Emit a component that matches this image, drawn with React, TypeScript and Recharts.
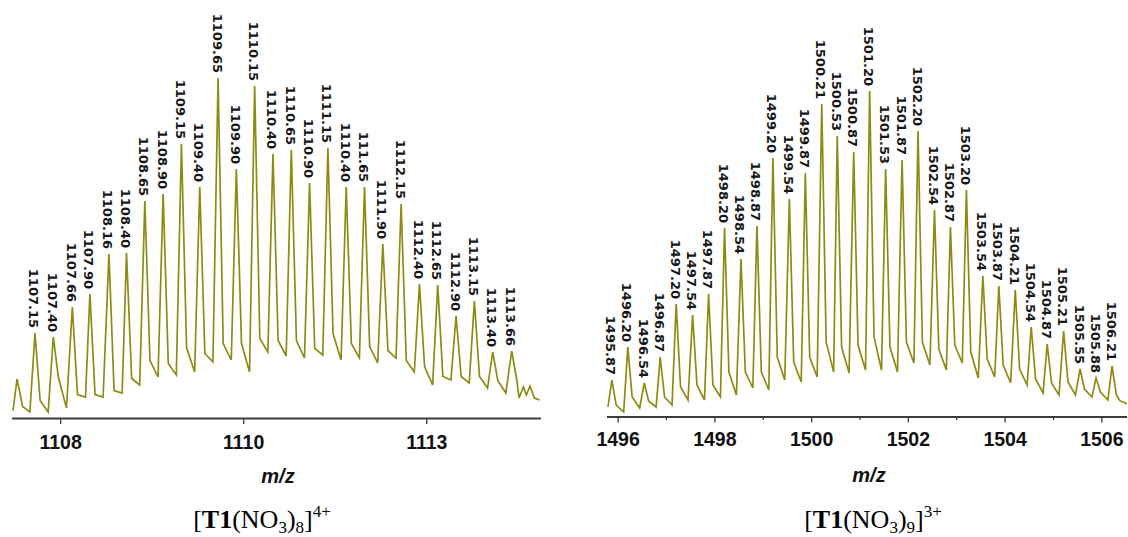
import React from 'react';
import { LineChart, Line, XAxis, YAxis, LabelList } from 'recharts';

// ---------- Left spectrum: [T1(NO3)8]4+ ----------
const leftPeakMz = [1107.15, 1107.40, 1107.66, 1107.90, 1108.16, 1108.40, 1108.65, 1108.90, 1109.15, 1109.40, 1109.65, 1109.90, 1110.15, 1110.40, 1110.65, 1110.90, 1111.15, 1111.40, 1111.65, 1111.90, 1112.15, 1112.40, 1112.65, 1112.90, 1113.15, 1113.40, 1113.66];
const leftPeakLabels = ['1107.15', '1107.40', '1107.66', '1107.90', '1108.16', '1108.40', '1108.65', '1108.90', '1109.15', '1109.40', '1109.65', '1109.90', '1110.15', '1110.40', '1110.65', '1110.90', '1111.15', '1110.40', '111.65', '1111.90', '1112.15', '1112.40', '1112.65', '1112.90', '1113.15', '1113.40', '1113.66'];
const leftPeakHeights = [85.5, 81.5, 111.5, 124.5, 164.5, 165.5, 217.5, 224.5, 274.5, 231.5, 340.5, 249.5, 332.5, 264.5, 268.5, 235.5, 270.5, 231.5, 231.5, 174.5, 214.5, 134.5, 133.5, 102.5, 117.5, 66.5, 67.5];
const leftKnees = [18, 41, 24, 24, 28, 40, 58, 55, 71, 65, 75, 75, 80, 78, 78, 70, 85, 75, 72, 68, 58, 52, 42, 42, 42, 38, 38];
const leftValleys = [6.5, 10.5, 21.5, 21.5, 25.5, 33.5, 41.5, 43.5, 46.5, 56.5, 58.5, 46.5, 66.5, 62.5, 60.5, 63.5, 58.5, 60.5, 55.5, 60.5, 46.5, 33.5, 38.5, 35.5, 30.5, 25.5];
const leftHeadMz = [1106.85, 1106.905, 1106.98, 1107.08];
const leftHeadH = [8, 39.5, 12, 6.5];
const leftTailMz = [1113.76, 1113.82, 1113.86, 1113.91, 1113.97, 1114.04];
const leftTailH = [20.5, 31.5, 23.5, 32.5, 20.5, 18.5];
const leftTickValues = [1107.5, 1110, 1112.5];
const leftTickLabels = ['1108', '1110', '1113'];

// ---------- Right spectrum: [T1(NO3)9]3+ ----------
const rightPeakMz = [1495.87, 1496.20, 1496.54, 1496.87, 1497.20, 1497.54, 1497.87, 1498.20, 1498.54, 1498.87, 1499.20, 1499.54, 1499.87, 1500.21, 1500.53, 1500.87, 1501.20, 1501.53, 1501.87, 1502.20, 1502.54, 1502.87, 1503.20, 1503.54, 1503.87, 1504.21, 1504.54, 1504.87, 1505.21, 1505.55, 1505.88, 1506.21];
const rightPeakLabels = ['1495.87', '1496.20', '1496.54', '1496.87', '1497.20', '1497.54', '1497.87', '1498.20', '1498.54', '1498.87', '1499.20', '1499.54', '1499.87', '1500.21', '1500.53', '1500.87', '1501.20', '1501.53', '1501.87', '1502.20', '1502.54', '1502.87', '1503.20', '1503.54', '1503.87', '1504.21', '1504.54', '1504.87', '1505.21', '1505.55', '1505.88', '1506.21'];
const rightPeakHeights = [37, 70, 34, 60, 113, 102, 123, 189, 158, 191, 259, 218, 244, 313, 281, 265, 326, 248, 257, 286, 207, 190, 227, 141, 131, 127, 90, 73, 86, 48, 39, 51];
const rightKnees = [12, 20, 16, 20, 30, 32, 32, 45, 45, 45, 60, 55, 60, 75, 70, 72, 80, 70, 75, 75, 68, 72, 65, 58, 52, 48, 38, 34, 35, 28, 25, 22];
const rightValleys = [5, 9, 10, 12, 17, 17, 20, 22, 29, 27, 37, 35, 40, 45, 44, 47, 47, 45, 54, 52, 47, 54, 39, 40, 34, 32, 24, 22, 22, 20, 17];
const rightHeadMz = [1495.79];
const rightHeadH = [10];
const rightTailMz = [1506.38, 1506.45, 1506.52];
const rightTailH = [16, 15, 13];
const rightTickValues = [1496, 1497, 1498, 1499, 1500, 1501, 1502, 1503, 1504, 1505, 1506];
const rightTickLabels = ['1496', '', '1498', '', '1500', '', '1502', '', '1504', '', '1506'];

type Pt = { mz: number; v: number; label?: string };

function buildTrace(
  headMz: number[], headH: number[],
  mz: number[], h: number[], knees: number[], valleys: number[],
  tailMz: number[], tailH: number[], labels: string[],
  kneeOffset: number, valleyOffset: number
): Pt[] {
  const pts: Pt[] = [];
  headMz.forEach((x, i) => pts.push({ mz: x, v: headH[i] }));
  mz.forEach((x, i) => {
    pts.push({ mz: x, v: h[i], label: labels[i] });
    pts.push({ mz: x + kneeOffset, v: knees[i] });
    if (i < valleys.length) pts.push({ mz: x + valleyOffset, v: valleys[i] });
  });
  tailMz.forEach((x, i) => pts.push({ mz: x, v: tailH[i] }));
  return pts;
}

const leftData = buildTrace(leftHeadMz, leftHeadH, leftPeakMz, leftPeakHeights, leftKnees, leftValleys, leftTailMz, leftTailH, leftPeakLabels, 0.07, 0.18);
const rightData = buildTrace(rightHeadMz, rightHeadH, rightPeakMz, rightPeakHeights, rightKnees, rightValleys, rightTailMz, rightTailH, rightPeakLabels, 0.09, 0.245);

const TRACE = '#8c8c14';
const AXIS = '#3c3c3c';

const PeakLabel = (props: any) => {
  const { x, y, value } = props;
  if (!value) return null;
  const ax = Number(x) - 1;
  const ay = Number(y) - 5;
  return (
    <text
      x={ax}
      y={ay}
      transform={`rotate(90 ${ax} ${ay})`}
      textAnchor="end"
      dominantBaseline="central"
      fontFamily="'DejaVu Sans', sans-serif"
      fontWeight="bold"
      fontSize={13}
      fill="#161616"
    >
      {value}
    </text>
  );
};

const makeTick = (values: number[], labels: string[], labelDy: number) => (props: any) => {
  const { x, y, payload } = props;
  const idx = values.indexOf(payload.value);
  const label = idx >= 0 ? labels[idx] : '';
  const major = label !== '';
  return (
    <g>
      <line x1={x} x2={x} y1={y} y2={y + (major ? 5.5 : 3)} stroke={AXIS} strokeWidth={1.3} />
      {major && (
        <text
          x={x}
          y={y + labelDy}
          textAnchor="middle"
          fontFamily="Arial, 'Liberation Sans', sans-serif"
          fontWeight="bold"
          fontSize={19.5}
          fill="#111"
        >
          {label}
        </text>
      )}
    </g>
  );
};

const LeftTick = makeTick(leftTickValues, leftTickLabels, 30.5);
const RightTick = makeTick(rightTickValues, rightTickLabels, 29);

export default function App() {
  return (
    <div style={{ position: 'absolute', left: 0, top: 0, width: 1128, height: 537, background: '#fff', overflow: 'hidden' }}>
      <div style={{ position: 'absolute', left: 0, top: 0 }}>
        <LineChart width={560} height={537} data={leftData} margin={{ top: 0, right: 19, bottom: 88.5, left: 12 }}>
          <XAxis
            dataKey="mz"
            type="number"
            domain={[1106.836, 1114.06]}
            allowDataOverflow
            ticks={leftTickValues}
            interval={0}
            tickSize={0}
            tickMargin={0}
            tickLine={false}
            height={30}
            axisLine={{ stroke: AXIS, strokeWidth: 2 }}
            tick={<LeftTick />}
          />
          <YAxis hide domain={[0, 418.5]} allowDataOverflow />
          <Line type="linear" dataKey="v" stroke={TRACE} strokeWidth={1.7} dot={false} activeDot={false} isAnimationActive={false}>
            <LabelList dataKey="label" content={<PeakLabel />} />
          </Line>
        </LineChart>
      </div>
      <div style={{ position: 'absolute', left: 570, top: 0 }}>
        <LineChart width={558} height={537} data={rightData} margin={{ top: 0, right: 1, bottom: 90, left: 37 }}>
          <XAxis
            dataKey="mz"
            type="number"
            domain={[1495.77, 1506.52]}
            allowDataOverflow
            ticks={rightTickValues}
            interval={0}
            tickSize={0}
            tickMargin={0}
            tickLine={false}
            height={30}
            axisLine={{ stroke: AXIS, strokeWidth: 2 }}
            tick={<RightTick />}
          />
          <YAxis hide domain={[0, 417]} allowDataOverflow />
          <Line type="linear" dataKey="v" stroke={TRACE} strokeWidth={1.7} dot={false} activeDot={false} isAnimationActive={false}>
            <LabelList dataKey="label" content={<PeakLabel />} />
          </Line>
        </LineChart>
      </div>
      <svg width={1128} height={537} style={{ position: 'absolute', left: 0, top: 0, pointerEvents: 'none' }}>
        <text x={278} y={483} textAnchor="middle" fontFamily="Arial, 'Liberation Sans', sans-serif" fontWeight="bold" fontStyle="italic" fontSize={20} fill="#111">m/z</text>
        <text x={869} y={482} textAnchor="middle" fontFamily="Arial, 'Liberation Sans', sans-serif" fontWeight="bold" fontStyle="italic" fontSize={20} fill="#111">m/z</text>
        <text x={262} y={528} textAnchor="middle" fontFamily="'Times New Roman', 'Liberation Serif', serif" fontSize={26} fill="#000">
          [<tspan fontWeight="bold">T1</tspan>(NO<tspan fontSize={17} dy={5}>3</tspan><tspan dy={-5}>)</tspan><tspan fontSize={17} dy={5}>8</tspan><tspan dy={-5}>]</tspan><tspan fontSize={17} dy={-11}>4+</tspan>
        </text>
        <text x={873} y={528} textAnchor="middle" fontFamily="'Times New Roman', 'Liberation Serif', serif" fontSize={26} fill="#000">
          [<tspan fontWeight="bold">T1</tspan>(NO<tspan fontSize={17} dy={5}>3</tspan><tspan dy={-5}>)</tspan><tspan fontSize={17} dy={5}>9</tspan><tspan dy={-5}>]</tspan><tspan fontSize={17} dy={-11}>3+</tspan>
        </text>
      </svg>
    </div>
  );
}
